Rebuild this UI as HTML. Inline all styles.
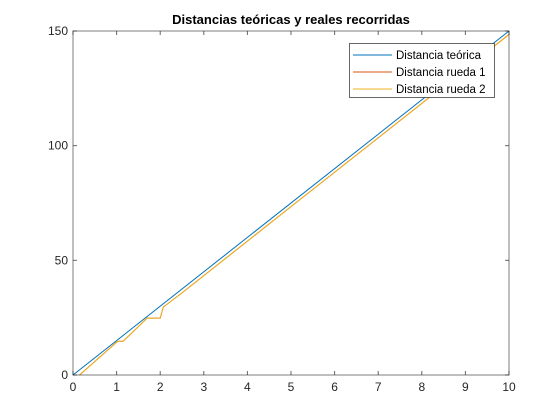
<!DOCTYPE html>
<html><head><meta charset="utf-8"><style>
html,body{margin:0;padding:0;background:#fff;}
svg{display:block;font-family:"Liberation Sans",Arial,sans-serif;}
</style></head><body>
<svg id="chart" width="560" height="420"></svg>
<script>
const xTicks=[0,1,2,3,4,5,6,7,8,9,10];
const yTicks=[0,50,100,150];
const teoX=[0,10];
const teoY=[0,150];
const r1X=[0.15,1.0,1.05,1.15,1.7,2.0,2.07,2.5,5,7,10];
const r1Y=[0,14.3,14.7,14.7,24.8,24.8,29.6,35.8,73.4,103.4,148.5];
const r2X=[0.15,1.0,1.05,1.15,1.7,2.0,2.07,2.5,5,7,10];
const r2Y=[0,14.3,14.7,14.7,24.8,24.8,29.6,35.8,73.4,103.4,148.5];
const seriesNames=["Distancia teórica","Distancia rueda 1","Distancia rueda 2"];
const colors=["#0072BD","#D95319","#EDB120"];

const NS="http://www.w3.org/2000/svg";
const svg=document.getElementById('chart');
const L=73,R=509,T=31,B=375;
const xs=v=>L+(v-0)/(10-0)*(R-L);
const ys=v=>B-(v-0)/(150-0)*(B-T);
function el(tag,attrs,parent){const e=document.createElementNS(NS,tag);for(const k in attrs)e.setAttribute(k,attrs[k]);(parent||svg).appendChild(e);return e;}

const bg=el('rect',{x:L,y:T,width:R-L,height:B-T,fill:'#fff'});



function line(xa,ya,c,name){
  const p=el('polyline',{points:xa.map((x,i)=>xs(x)+','+ys(ya[i])).join(' '),fill:'none',stroke:c,'stroke-width':1});
  
  
}
line(teoX,teoY,colors[0],'line-distancia-teorica');
line(r1X,r1Y,colors[1],'line-distancia-rueda-1');
line(r2X,r2Y,colors[2],'line-distancia-rueda-2');

const ax=el('rect',{x:L,y:T,width:R-L,height:B-T,fill:'none',stroke:'#262626','stroke-width':1,'stroke-opacity':0.6});



xTicks.forEach(t=>{
  const x=xs(t);
  el('line',{x1:x,x2:x,y1:B,y2:B-4,stroke:'#262626','stroke-opacity':0.7});
  el('line',{x1:x,x2:x,y1:T,y2:T+4,stroke:'#262626','stroke-opacity':0.7});
  const tx=el('text',{x:x,y:B+16,'text-anchor':'middle','font-size':12,fill:'#262626'});
  tx.textContent=t;
  
  
});
yTicks.forEach(t=>{
  const y=ys(t);
  el('line',{x1:L,x2:L+4,y1:y,y2:y,stroke:'#262626','stroke-opacity':0.7});
  el('line',{x1:R,x2:R-4,y1:y,y2:y,stroke:'#262626','stroke-opacity':0.7});
  const tx=el('text',{x:L-5,y:y+4,'text-anchor':'end','font-size':12,fill:'#262626'});
  tx.textContent=t;
  
  
});

const title=el('text',{x:(L+R)/2,y:24,'text-anchor':'middle','font-size':13,'font-weight':'bold',fill:'#000'});
title.textContent='Distancias teóricas y reales recorridas';



const lg=el('g',{});


el('rect',{x:349.5,y:43.5,width:145,height:54,fill:'#fff',stroke:'#262626','stroke-opacity':0.7},lg);
seriesNames.forEach((n,i)=>{
  const y=55+i*17;
  const g=el('g',{},lg);
  
  
  el('line',{x1:353,x2:392,y1:y,y2:y,stroke:colors[i],'stroke-width':1},g);
  const t=el('text',{x:396,y:y+4,'font-size':11.5,fill:'#000'},g);
  t.textContent=n;
});
</script>
</body></html>
